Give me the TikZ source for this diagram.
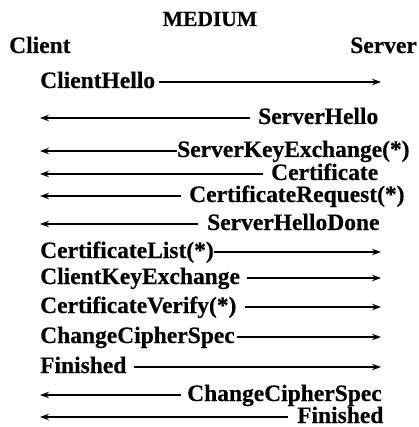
\documentclass[tikz,border=0pt]{standalone}
\usepackage{fontspec}
\setmainfont{Liberation Serif}[BoldFeatures={FakeBold=0.4}]
\usetikzlibrary{arrows.meta}
\begin{document}
\begin{tikzpicture}[x=1pt,y=-1pt,
  lbl/.style={font=\bfseries\fontsize{23.5}{25}\selectfont, inner sep=0pt, anchor=base west},
  head/.style={font=\bfseries\fontsize{23.5}{25}\selectfont, inner sep=0pt},
  msg/.style={line width=1.4pt, -{Stealth[length=9pt,width=6.5pt]}}]
\useasboundingbox (0,0) rectangle (418,427);

% title and the two parties
\node[head, font=\bfseries\fontsize{21.5}{23}\selectfont, anchor=base] (medium) at (210,26) {MEDIUM};
\node[head, anchor=base west] (client) at (9,53) {Client};
\node[head, anchor=base east] (server) at (417,53) {Server};

% client -> server messages: label on the left, arrow to the right edge
\newcommand{\tocli}[5]{% name, baseline y, arrow y, gap, text
  \node[lbl] (#1) at (40,#2) {#5};
  \coordinate (#1-end) at (381,#3);
  \draw[msg] ([xshift=#4pt]#1.east |- #1-end) -- (#1-end);}
% server -> client messages: label on the right, arrow to the left edge
\newcommand{\tosrv}[6]{% name, text x, baseline y, arrow y, gap, text
  \node[lbl] (#1) at (#2,#3) {#6};
  \coordinate (#1-end) at (40,#4);
  \draw[msg] ([xshift=-#5pt]#1.west |- #1-end) -- (#1-end);}

\tocli{clienthello}{88}{82}{4}{ClientHello}
\tosrv{serverhello}{258}{124}{118}{8}{ServerHello}
\tosrv{ske}{177}{157}{151}{0}{ServerKeyExchange(*)}
\tosrv{cert}{271}{180}{174}{8}{Certificate}
\tosrv{certreq}{189}{202}{196}{8}{CertificateRequest(*)}
\tosrv{shd}{207}{230}{224}{9}{ServerHelloDone}
\tocli{certlist}{258}{252}{0}{CertificateList(*)}
\tocli{cke}{284}{278}{7}{ClientKeyExchange}
\tocli{cv}{313}{307}{8}{CertificateVerify(*)}
\tocli{ccs}{343}{337}{2}{ChangeCipherSpec}
\tocli{fin}{373}{367}{7}{Finished}
\tosrv{ccsb}{187}{401}{395}{6}{ChangeCipherSpec}
\tosrv{finb}{297}{423}{417}{9}{Finished}
\end{tikzpicture}
\end{document}
